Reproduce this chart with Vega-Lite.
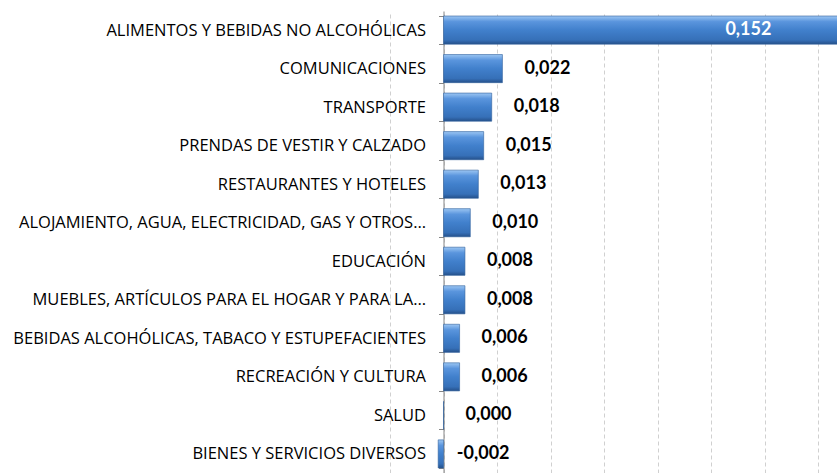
{
  "$schema": "https://vega.github.io/schema/vega-lite/v6.json",
  "width": 447,
  "height": 462,
  "autosize": {"type": "none"},
  "padding": {"left": 390, "top": 11, "right": 0, "bottom": 0},
  "background": "white",
  "config": {
    "view": {"stroke": null},
    "locale": {"number": {"decimal": ",", "thousands": ".", "grouping": [3], "currency": ["", ""], "minus": "-"}}
  },
  "data": {
    "values": [
      {"grupo": "ALIMENTOS Y BEBIDAS  NO ALCOHÓLICAS", "valor": 0.152},
      {"grupo": "COMUNICACIONES", "valor": 0.022},
      {"grupo": "TRANSPORTE", "valor": 0.018},
      {"grupo": "PRENDAS DE VESTIR  Y CALZADO", "valor": 0.015},
      {"grupo": "RESTAURANTES  Y HOTELES", "valor": 0.013},
      {"grupo": "ALOJAMIENTO, AGUA, ELECTRICIDAD,  GAS Y OTROS…", "valor": 0.010},
      {"grupo": "EDUCACIÓN", "valor": 0.008},
      {"grupo": "MUEBLES, ARTÍCULOS PARA EL HOGAR Y PARA LA…", "valor": 0.008},
      {"grupo": "BEBIDAS ALCOHÓLICAS, TABACO Y ESTUPEFACIENTES ", "valor": 0.006},
      {"grupo": "RECREACIÓN Y CULTURA", "valor": 0.006},
      {"grupo": "SALUD", "valor": 0.0},
      {"grupo": "BIENES Y SERVICIOS  DIVERSOS", "valor": -0.002}
    ]
  },
  "encoding": {
    "y": {
      "field": "grupo",
      "type": "nominal",
      "sort": null,
      "scale": {"paddingInner": 0.27, "paddingOuter": 0.13},
      "axis": {
        "title": null,
        "offset": -53.5,
        "domain": true,
        "domainColor": "#868686",
        "ticks": true,
        "tickSize": 5,
        "tickColor": "#868686",
        "tickBand": "extent",
        "labelFont": "Open Sans",
        "labelFontSize": 16.5,
        "labelColor": "#000000",
        "labelPadding": 13,
        "labelLimit": 0,
        "grid": false
      }
    },
    "x": {
      "field": "valor",
      "type": "quantitative",
      "scale": {"domain": [-0.02, 0.147], "nice": false, "zero": false},
      "axis": {
        "title": null,
        "labels": false,
        "ticks": false,
        "domain": false,
        "values": [-0.02, 0, 0.02, 0.04, 0.06, 0.08, 0.1, 0.12, 0.14],
        "grid": true,
        "gridDash": [4, 3],
        "gridColor": "#d0d0d0"
      }
    }
  },
  "layer": [
    {
      "mark": {
        "type": "bar",
        "clip": true,
        "stroke": "#2f5f9c",
        "strokeWidth": 0.6,
        "color": {
          "gradient": "linear",
          "x1": 0, "y1": 0, "x2": 0, "y2": 1,
          "stops": [
            {"offset": 0, "color": "#9cc6f3"},
            {"offset": 0.2, "color": "#5a95dd"},
            {"offset": 0.5, "color": "#4180cc"},
            {"offset": 0.85, "color": "#3670b8"},
            {"offset": 1, "color": "#25508a"}
          ]
        }
      }
    },
    {
      "transform": [{"filter": "datum.valor < 0.1"}],
      "mark": {"type": "text", "font": "Lato", "fontWeight": "bold", "fontSize": 18, "align": "center", "baseline": "middle", "dx": 45, "color": "#000000"},
      "encoding": {"text": {"field": "valor", "type": "quantitative", "format": ".3f"}}
    },
    {
      "transform": [{"filter": "datum.valor >= 0.1"}],
      "mark": {"type": "text", "font": "Lato", "fontWeight": "bold", "fontSize": 18, "align": "right", "baseline": "middle", "dx": -79, "color": "#ffffff"},
      "encoding": {"text": {"field": "valor", "type": "quantitative", "format": ".3f"}}
    }
  ]
}
